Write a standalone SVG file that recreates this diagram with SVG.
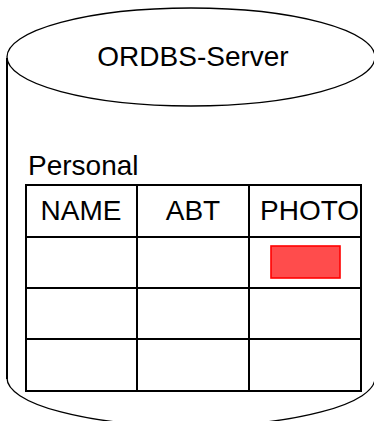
<svg xmlns="http://www.w3.org/2000/svg" width="374" height="421" viewBox="0 0 374 421">
  <style>
    text { font-family: "Liberation Sans", Arial, sans-serif; font-size: 28px; fill: #000; }
    .arc { fill: none; stroke: #000; stroke-width: 1.3; }
    .side { fill: none; stroke: #000; stroke-width: 2; }
    .grid { fill: none; stroke: #000; stroke-width: 2; }
  </style>
  <g id="server">
    <path d="M7,57 L7,378 A184,48 0 0 0 375,378 L375,57 Z" fill="#fff" stroke="none"/>
    <path class="side" d="M7,58 L7,379"/>
    <path class="arc" d="M7,378 A184,48 0 0 0 375,378"/>
    <path class="side" d="M375,58 L375,379"/>
    <ellipse class="arc" cx="191" cy="57" rx="184" ry="49" fill="#fff"/>
    <text x="193" y="66" text-anchor="middle">ORDBS-Server</text>
  </g>
  <g id="personal-table">
    <text x="28" y="175">Personal</text>
    <rect x="26" y="185" width="335" height="206" fill="#fff" stroke="none"/>
    <text x="81" y="220" text-anchor="middle">NAME</text>
    <text x="193" y="220" text-anchor="middle">ABT</text>
    <text x="260" y="220">PHOTO</text>
    <rect x="271" y="246" width="69" height="32" fill="#ff4c4c" stroke="#ff0000" stroke-width="1.6"/>
    <rect class="grid" x="26" y="185" width="335" height="206"/>
    <path class="grid" d="M26,237 H361 M26,288 H361 M26,339 H361 M137,185 V391 M249,185 V391"/>
  </g>
</svg>
